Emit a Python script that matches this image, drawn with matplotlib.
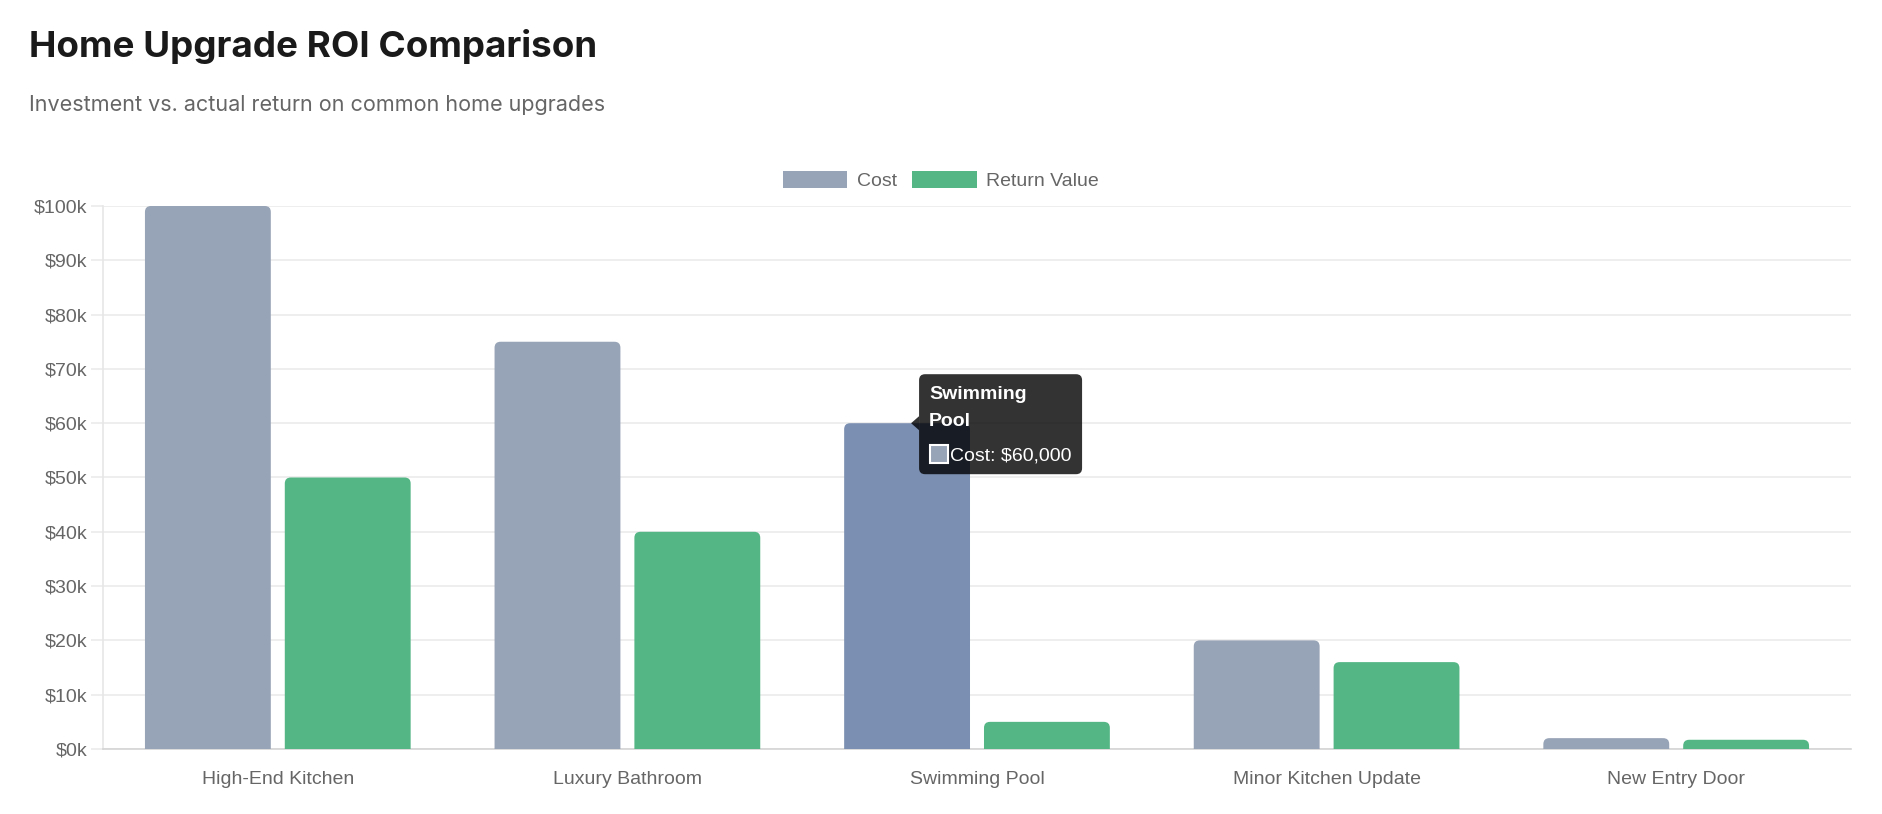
import matplotlib
matplotlib.use("Agg")
import matplotlib.pyplot as plt
from matplotlib.patches import FancyBboxPatch, Patch, Polygon, Rectangle
import numpy as np

# data
categories = ["High-End Kitchen", "Luxury Bathroom", "Swimming Pool",
              "Minor Kitchen Update", "New Entry Door"]
cost = [100000, 75000, 60000, 20000, 2000]
return_value = [50000, 40000, 5000, 16000, 1700]
y_ticks = list(range(0, 100001, 10000))

cost_color = "#97a3b6"
cost_hover = "#7b8fb2"
return_color = "#54b685"
hover_index = 2

plt.rcParams["font.family"] = ["Liberation Sans", "DejaVu Sans"]

fig = plt.figure(figsize=(18.82, 8.14), dpi=100)
W, H = 1882, 814
ax = fig.add_axes([103 / W, 1 - 749 / H, (1851 - 103) / W, (749 - 206) / H])

x = np.arange(len(categories))
bw = 0.36
ax.set_xlim(-0.5, len(categories) - 0.5)
ax.set_ylim(0, 100000)

b1 = ax.bar(x - 0.2, cost, bw, color=cost_color, visible=False)
b2 = ax.bar(x + 0.2, return_value, bw, color=return_color, visible=False)

# rounded top corners
r_px = 6
rx = r_px / (ax.bbox.width / 5)
ry = r_px / (ax.bbox.height / 100000)
for bars, col in [(b1, cost_color), (b2, return_color)]:
    for i, rect in enumerate(bars):
        c = col
        if bars is b1 and i == hover_index:
            c = cost_hover
        p = FancyBboxPatch((rect.get_x(), -ry), rect.get_width(), rect.get_height() + ry,
                           boxstyle=f"round,pad=0,rounding_size={rx}",
                           mutation_aspect=ry / rx, facecolor=c, edgecolor="none",
                           zorder=3)
        ax.add_patch(p)

ax.set_yticks(y_ticks)
ax.set_yticklabels([f"${v // 1000}k" for v in y_ticks])
ax.set_xticks(x)
ax.set_xticklabels(categories)
ax.grid(axis="y", color="#ebebeb", linewidth=1.2, zorder=0)
ax.set_axisbelow(True)
ax.tick_params(axis="y", length=9, width=1.2, color="#ebebeb", pad=2,
               labelsize=14, labelcolor="#666666")
ax.tick_params(axis="x", length=0, pad=16, labelsize=14, labelcolor="#666666")
for s in ["top", "right"]:
    ax.spines[s].set_visible(False)
ax.spines["left"].set_color("#e6e6e6")
ax.spines["left"].set_linewidth(1.2)
ax.spines["bottom"].set_color("#d4d4d4")
ax.spines["bottom"].set_linewidth(1.2)

handles = [Patch(facecolor=cost_color, label="Cost"),
           Patch(facecolor=return_color, label="Return Value")]
ax.legend(handles=handles, loc="lower center", bbox_to_anchor=(0.5 - 36 / 1748, 1.0), ncol=2,
          frameon=False, fontsize=14, labelcolor="#666666", handlelength=3.3,
          handleheight=1.0, handletextpad=0.5, columnspacing=0.8, borderaxespad=0.42)

# title / subtitle
fig.text(29 / W, 1 - 57 / H, "Home Upgrade ROI Comparison", fontsize=26.5,
         fontweight="bold", color="#1a1a1a", family=["Inter", "DejaVu Sans"],
         va="baseline")
fig.text(29 / W, 1 - 111 / H, "Investment vs. actual return on common home upgrades",
         fontsize=15.5, color="#666666", family=["Inter", "DejaVu Sans"], va="baseline")

# tooltip (pixel coords, image y from top)
tx, ty = ax.transData.transform((x[hover_index] - 0.2, cost[hover_index]))
tx += 4
ty_img = H - ty


def fy(yimg):
    return (H - yimg) / H


def fx(xp):
    return xp / W


box_l, box_r = tx + 8, tx + 171
box_t, box_b = ty_img - 49, ty_img + 51
tip = FancyBboxPatch((fx(box_l), fy(box_b)), fx(box_r - box_l), (box_b - box_t) / H,
                     boxstyle=f"round,pad=0,rounding_size={6 / W}",
                     mutation_aspect=W / H, transform=fig.transFigure,
                     facecolor="black", alpha=0.8, edgecolor="none", zorder=10)
fig.patches.append(tip)
caret = Polygon([(fx(box_l), fy(ty_img - 7)), (fx(tx), fy(ty_img)), (fx(box_l), fy(ty_img + 7))],
                closed=True, transform=fig.transFigure, facecolor="black", alpha=0.8,
                edgecolor="none", zorder=10)
fig.patches.append(caret)
fig.text(fx(box_l + 10), fy(ty_img - 24), "Swimming", color="white", fontsize=14,
         fontweight="bold", va="baseline", zorder=11)
fig.text(fx(box_l + 10), fy(ty_img + 3), "Pool", color="white", fontsize=14,
         fontweight="bold", va="baseline", zorder=11)
sw = Rectangle((fx(box_l + 11), fy(ty_img + 40)), 18 / W, 18 / H, transform=fig.transFigure,
               facecolor=cost_color, edgecolor="white", linewidth=1.5, zorder=11)
fig.patches.append(sw)
fig.text(fx(box_l + 31), fy(ty_img + 37), "Cost: $60,000", color="white", fontsize=14,
         va="baseline", zorder=11)

fig.savefig("out.png", dpi=100)
